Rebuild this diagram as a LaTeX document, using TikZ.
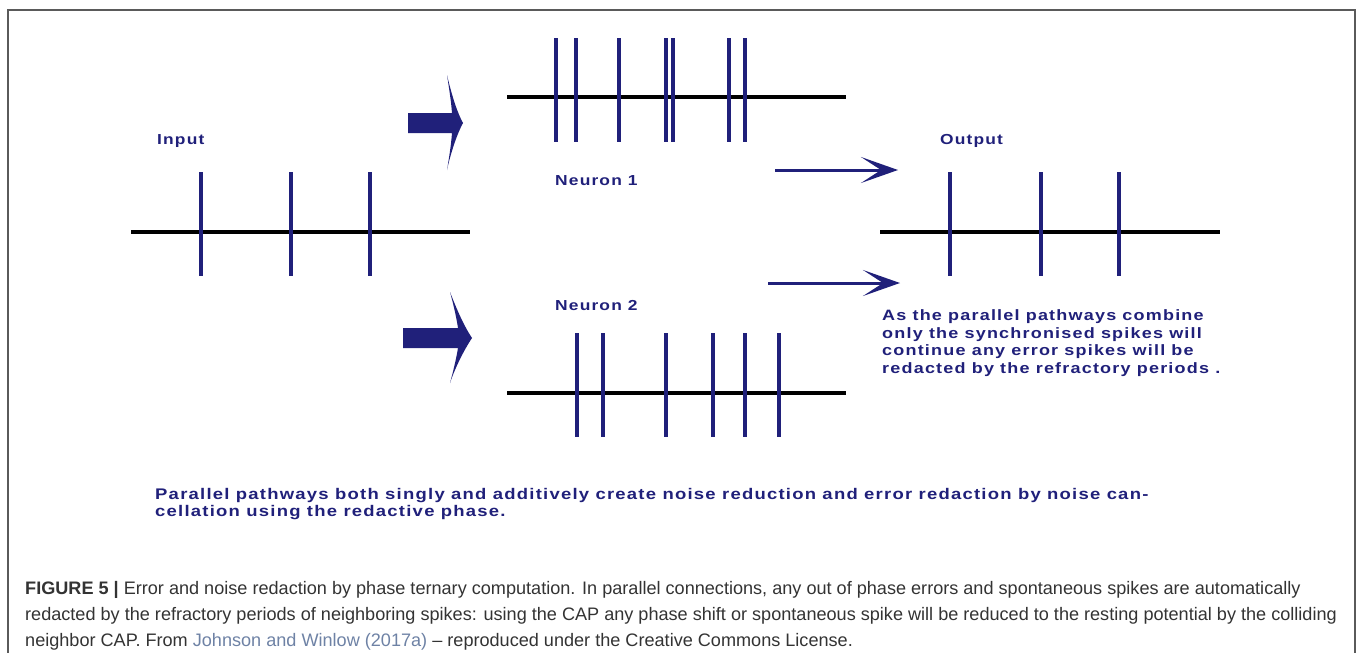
\documentclass[tikz,border=0pt]{standalone}
\usepackage{fontspec}
\setmainfont{Liberation Sans}
\newfontfamily\spikefont[LetterSpace=8, FakeStretch=1.2]{Liberation Sans}
\usepackage{xcolor}
\usetikzlibrary{arrows.meta,positioning,calc}
\definecolor{navy}{RGB}{32,32,122}
\definecolor{captext}{RGB}{51,51,51}
\definecolor{reflink}{RGB}{110,130,165}
\definecolor{framegray}{RGB}{90,90,90}

\begin{document}
\begin{tikzpicture}[
    x=1pt, y=-1pt,
    axis/.style={line width=3.2pt, black},
    spike/.style={line width=4.2pt, navy},
    label/.style={anchor=base west, inner sep=0pt, text=navy, font=\fontsize{14.5}{17.5}\selectfont\spikefont\bfseries, align=left},
    thinarrow/.style={-{Stealth[length=37pt, width=26pt, inset=20pt]}, line width=3pt, navy},
    bigarrow/.style={fill=navy, draw=none}
]
    \useasboundingbox (0,0) rectangle (1358,653);
    % Figure frame
    \draw[framegray, line width=1.6pt] (8,700) -- (8,10) -- (1355,10) -- (1355,700);

    % Input train
    \node[label] (input) at (157,144) {Input};
    \draw[axis] (131,232) -- (470,232);
    \draw[spike] (201,172) -- (201,276) (291,172) -- (291,276) (370,172) -- (370,276);

    % Block arrows into the two neurons
    \draw[bigarrow] (408,113) -- (452,113) .. controls (451,100) and (449,88) .. (447,75)
        .. controls (452,96) and (457,112) .. (463,123)
        .. controls (457,134) and (451,152) .. (447,170)
        .. controls (449,158) and (451,146) .. (452,133) -- (408,133) -- cycle;
    \draw[bigarrow] (403,328) -- (458,328) .. controls (456,315) and (453,303) .. (450,292)
        .. controls (457,310) and (464,326) .. (472,338)
        .. controls (464,350) and (455,368) .. (450,383)
        .. controls (453,372) and (456,360) .. (458,348) -- (403,348) -- cycle;

    % Neuron 1 train
    \draw[axis] (507,97) -- (846,97);
    \draw[spike] (556,38) -- (556,142) (576,38) -- (576,142) (619,38) -- (619,142)
        (666,38) -- (666,142) (673,38) -- (673,142) (729,38) -- (729,142) (745,38) -- (745,142);
    \node[label] (neuron1) at (555,185) {Neuron 1};

    % Neuron 2 train
    \node[label] (neuron2) at (555,310) {Neuron 2};
    \draw[axis] (507,393) -- (846,393);
    \draw[spike] (577,333) -- (577,437) (603,333) -- (603,437) (666,333) -- (666,437)
        (713,333) -- (713,437) (745,333) -- (745,437) (779,333) -- (779,437);

    % Pathways combine at the output
    \coordinate (n1out) at (775,170);
    \coordinate (outtop) at (898,170);
    \coordinate (n2out) at (768,283);
    \coordinate (outbot) at (900,283);
    \draw[thinarrow] (n1out) -- (outtop);
    \draw[thinarrow] (n2out) -- (outbot);

    % Output train
    \node[label] (output) at (940,144) {Output};
    \draw[axis] (880,232) -- (1220,232);
    \draw[spike] (950,172) -- (950,276) (1041,172) -- (1041,276) (1119,172) -- (1119,276);

    \node[label, font=\fontsize{15}{17.5}\selectfont\spikefont\bfseries] (note) at (882,373)
        {As the parallel pathways combine\\only the synchronised spikes will\\continue any error spikes will be\\redacted by the refractory periods .};

    \node[label, font=\fontsize{15.4}{17}\selectfont\spikefont\bfseries] (summary) at (155,516)
        {Parallel pathways both singly and additively create noise reduction and error redaction by noise can-\\cellation using the redactive phase.};

    % Caption
    \node[anchor=base west, inner sep=0pt, align=left, text=captext, font=\fontsize{18.1}{26}\selectfont] (caption) at (25,646)
        {\textbf{FIGURE 5 |} Error and noise redaction by phase ternary computation. In parallel connections, any out of phase errors and spontaneous spikes are automatically\\
        redacted by the refractory periods of neighboring spikes: using the CAP any phase shift or spontaneous spike will be reduced to the resting potential by the colliding\\
        neighbor CAP. From \textcolor{reflink}{Johnson and Winlow (2017a)} -- reproduced under the Creative Commons License.};
\end{tikzpicture}
\end{document}
